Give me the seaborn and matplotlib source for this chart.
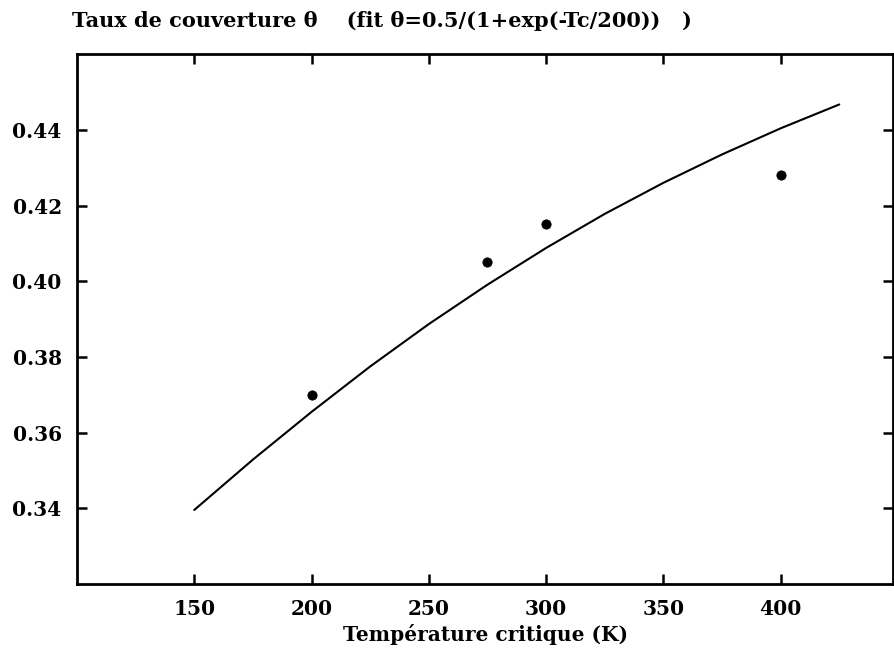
import matplotlib
matplotlib.use("Agg")
import matplotlib.pyplot as plt
import pandas as pd
import seaborn as sns

# measured points
tc_points = [200, 275, 300, 400]
theta_points = [0.370, 0.405, 0.415, 0.428]

# fit curve, every 25 K
tc_fit = [150, 175, 200, 225, 250, 275, 300, 325, 350, 375, 400, 425]
theta_fit = [0.3396, 0.3529, 0.3655, 0.3775, 0.3887, 0.3991, 0.4088, 0.4178, 0.4260, 0.4335, 0.4404, 0.4467]

x_ticks = [150, 200, 250, 300, 350, 400]
y_ticks = [0.34, 0.36, 0.38, 0.40, 0.42, 0.44]

sns.set_style("ticks")
plt.rcParams["font.family"] = ["DejaVu Serif"]
plt.rcParams["xtick.direction"] = "in"
plt.rcParams["ytick.direction"] = "in"

df_fit = pd.DataFrame({"Tc": tc_fit, "theta": theta_fit})
df_pts = pd.DataFrame({"Tc": tc_points, "theta": theta_points})

fig = plt.figure(figsize=(8.95, 6.52), dpi=100)
ax = fig.add_axes([0.086, 0.104, 0.912, 0.813])

sns.lineplot(data=df_fit, x="Tc", y="theta", ax=ax, color="black", linewidth=1.5)
sns.scatterplot(data=df_pts, x="Tc", y="theta", ax=ax, color="black", s=45, edgecolor="black")

ax.set_xlim(100, 448)
ax.set_ylim(0.32, 0.46)
ax.set_xticks(x_ticks)
ax.set_yticks(y_ticks)
ax.set_yticklabels([f"{v:.2f}" for v in y_ticks])
ax.minorticks_off()
ax.tick_params(axis="both", which="major", direction="in", top=True, right=True,
               labeltop=False, labelright=False, length=7, width=1.8, labelsize=14.5, pad=11,
               color="black", labelcolor="black")
for lab in ax.get_xticklabels() + ax.get_yticklabels():
    lab.set_fontweight("bold")
for sp in ax.spines.values():
    sp.set_linewidth(2)
    sp.set_color("black")
    sp.set_zorder(3)

ax.set_xlabel("Température critique (K)", fontsize=14.5, fontweight="bold", labelpad=3, color="black")
ax.set_ylabel("")

fig.text(0.081, 0.968, "Taux de couverture θ    (fit θ=0.5/(1+exp(-Tc/200))   )",
         fontsize=15, fontweight="bold", ha="left", va="center", color="black")

fig.savefig("out.png", dpi=100)
